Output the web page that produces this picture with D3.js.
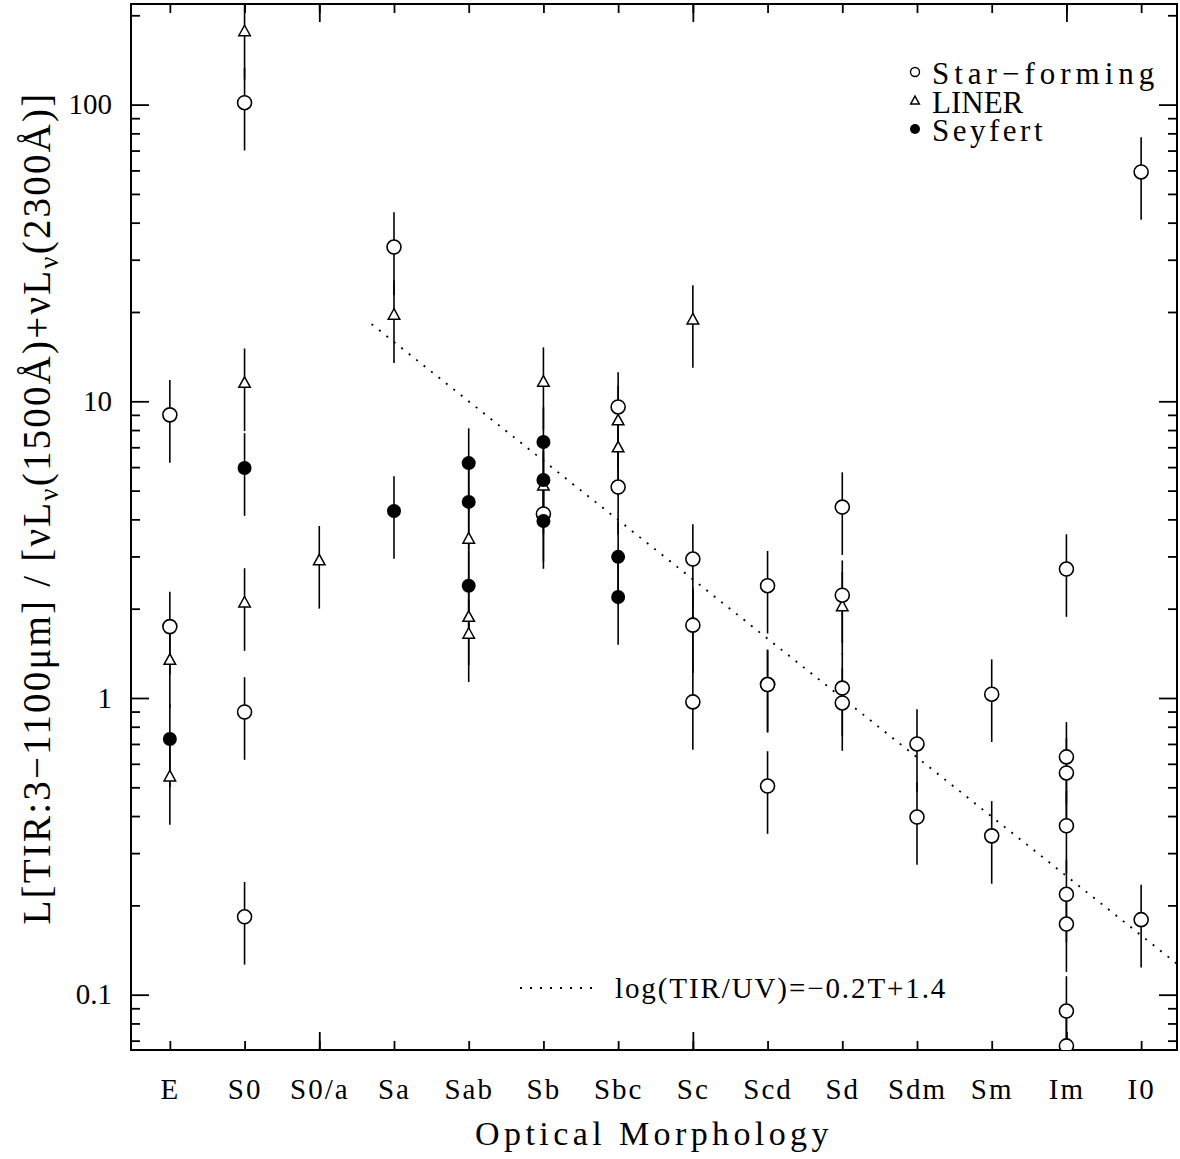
<!DOCTYPE html>
<html>
<head>
<meta charset="utf-8">
<script src="https://cdn.jsdelivr.net/npm/d3@7"></script>
<style>
  body { margin: 0; background: #fff; }
  text { font-family: "Liberation Serif", "Times New Roman", serif; fill: #000; }
</style>
</head>
<body>
<svg id="chart"></svg>
<script>
// morphological types along the x axis (S0/a is T=0)
const categories = ["E", "S0", "S0/a", "Sa", "Sab", "Sb", "Sbc", "Sc", "Scd", "Sd", "Sdm", "Sm", "Im", "I0"];
const majorTypes = ["S0/a", "Sc", "Im"];

// TIR/UV ratios, [type, value]
const starForming = [
  ["E", 9.0], ["E", 1.74],
  ["S0", 101.5], ["S0", 0.897], ["S0", 0.183],
  ["Sa", 33.1],
  ["Sb", 4.17],
  ["Sbc", 9.57], ["Sbc", 5.14],
  ["Sc", 2.94], ["Sc", 1.76], ["Sc", 0.97],
  ["Scd", 2.39], ["Scd", 1.11], ["Scd", 1.11], ["Scd", 0.505],
  ["Sd", 4.40], ["Sd", 2.22], ["Sd", 1.08], ["Sd", 0.962],
  ["Sdm", 0.70], ["Sdm", 0.397],
  ["Sm", 1.03], ["Sm", 0.343],
  ["Im", 2.72], ["Im", 0.633], ["Im", 0.559], ["Im", 0.371], ["Im", 0.218], ["Im", 0.173], ["Im", 0.0881], ["Im", 0.0672],
  ["I0", 59.3], ["I0", 0.179]
];
const liner = [
  ["E", 1.34], ["E", 0.542],
  ["S0", 176], ["S0", 11.5], ["S0", 2.09],
  ["S0/a", 2.90],
  ["Sa", 19.5],
  ["Sab", 3.43], ["Sab", 1.87], ["Sab", 1.64],
  ["Sb", 11.6], ["Sb", 5.18],
  ["Sbc", 8.59], ["Sbc", 6.97],
  ["Sc", 18.8], ["Sc", 1.79],
  ["Sd", 2.03]
];
const seyfert = [
  ["E", 0.727],
  ["S0", 5.96],
  ["Sa", 4.27],
  ["Sab", 6.19], ["Sab", 4.58], ["Sab", 2.39],
  ["Sb", 7.29], ["Sb", 5.43], ["Sb", 3.95],
  ["Sbc", 2.99], ["Sbc", 2.19]
];
const errFrac = 0.31;   // fractional error bar

const yTicks = [0.1, 1, 10, 100];
const yTickLabels = ["0.1", "1", "10", "100"];

// log(TIR/UV) = -0.2 T + 1.4
const fitSlope = -0.2, fitIntercept = 1.4, fitStartT = 0.7;

const margin = { top: 4, right: 3, bottom: 109, left: 131 },
  width = 1180 - margin.left - margin.right,
  height = 1159 - margin.top - margin.bottom;

const root = d3.select("#chart")
  .attr("width", 1180)
  .attr("height", 1159);

const svg = root.append("g")
  .attr("transform", `translate(${margin.left},${margin.top})`);

svg.append("clipPath").attr("id", "plotclip")
  .append("rect").attr("width", width).attr("height", height);

const x = d3.scaleLinear().domain([-0.52, 13.48]).range([0, width]);
const y = d3.scaleLog().domain([0.0651, 218.3]).range([height, 0]);
const xi = t => x(categories.indexOf(t));

// minor log ticks
const minorY = [];
[0.01, 0.1, 1, 10, 100].forEach(d => {
  for (let k = 2; k <= 9; k++) {
    const v = d * k;
    if (v > y.domain()[0] && v < y.domain()[1]) minorY.push(v);
  }
});

const idx = categories.map((c, i) => i);
const majorIdx = majorTypes.map(t => categories.indexOf(t));

function styleAxis(g) {
  g.select(".domain").remove();
  g.selectAll("line").attr("stroke", "#000").attr("stroke-width", 1.8);
}

// left axis
svg.append("g")
  .call(d3.axisLeft(y).tickValues(minorY).tickSizeInner(-9).tickSizeOuter(0).tickFormat(""))
  .call(styleAxis);
svg.append("g")
  .call(d3.axisLeft(y).tickValues(yTicks).tickSizeInner(-18).tickSizeOuter(0).tickPadding(19)
    .tickFormat((d, i) => yTickLabels[i]))
  .call(styleAxis)
  .selectAll("text")
  .attr("font-size", 29)
  .style("font-family", '"Liberation Serif", serif');

// right axis
svg.append("g").attr("transform", `translate(${width},0)`)
  .call(d3.axisRight(y).tickValues(minorY).tickSizeInner(-9).tickSizeOuter(0).tickFormat(""))
  .call(styleAxis);
svg.append("g").attr("transform", `translate(${width},0)`)
  .call(d3.axisRight(y).tickValues(yTicks).tickSizeInner(-18).tickSizeOuter(0).tickFormat(""))
  .call(styleAxis);

// bottom axis
svg.append("g").attr("transform", `translate(0,${height})`)
  .call(d3.axisBottom(x).tickValues(idx).tickSizeInner(-9).tickSizeOuter(0).tickPadding(28)
    .tickFormat(i => categories[i]))
  .call(styleAxis)
  .selectAll("text")
  .attr("font-size", 29)
  .attr("letter-spacing", 2)
  .style("font-family", '"Liberation Serif", serif');
svg.append("g").attr("transform", `translate(0,${height})`)
  .call(d3.axisBottom(x).tickValues(majorIdx).tickSizeInner(-18).tickSizeOuter(0).tickFormat(""))
  .call(styleAxis);

// top axis
svg.append("g")
  .call(d3.axisTop(x).tickValues(idx).tickSizeInner(-9).tickSizeOuter(0).tickFormat(""))
  .call(styleAxis);
svg.append("g")
  .call(d3.axisTop(x).tickValues(majorIdx).tickSizeInner(-18).tickSizeOuter(0).tickFormat(""))
  .call(styleAxis);

// frame
svg.append("rect")
  .attr("width", width).attr("height", height)
  .attr("fill", "none").attr("stroke", "#000").attr("stroke-width", 2);

const plot = svg.append("g").attr("clip-path", "url(#plotclip)");

// fit line
const tMax = x.domain()[1] - 2;
const fitPts = [fitStartT, tMax].map(t => [t, Math.pow(10, fitSlope * t + fitIntercept)]);
plot.append("path")
  .datum(fitPts)
  .attr("d", d3.line().x(d => x(d[0] + 2)).y(d => y(d[1])))
  .attr("fill", "none")
  .attr("stroke", "#000")
  .attr("stroke-width", 1.8)
  .attr("stroke-dasharray", "2,7.5");

const allPts = starForming.map(d => ({ t: d[0], v: d[1], k: "sf" }))
  .concat(liner.map(d => ({ t: d[0], v: d[1], k: "li" })))
  .concat(seyfert.map(d => ({ t: d[0], v: d[1], k: "sy" })));

// error bars
plot.selectAll(".err")
  .data(allPts)
  .enter()
  .append("line")
  .attr("class", "err")
  .attr("x1", d => xi(d.t)).attr("x2", d => xi(d.t))
  .attr("y1", d => y(d.v * (1 + errFrac)))
  .attr("y2", d => y(d.v * (1 - errFrac)))
  .attr("stroke", "#000")
  .attr("stroke-width", 1.6);

const triPath = s => `M0,${-0.62 * s}L${0.55 * s},${0.38 * s}L${-0.55 * s},${0.38 * s}Z`;

plot.selectAll(".tri")
  .data(allPts.filter(d => d.k === "li"))
  .enter()
  .append("path")
  .attr("class", "tri")
  .attr("transform", d => `translate(${xi(d.t)},${y(d.v)})`)
  .attr("d", triPath(10.5))
  .attr("fill", "#fff")
  .attr("stroke", "#000")
  .attr("stroke-width", 1.5);

plot.selectAll(".sf")
  .data(allPts.filter(d => d.k === "sf"))
  .enter()
  .append("circle")
  .attr("class", "sf")
  .attr("cx", d => xi(d.t))
  .attr("cy", d => y(d.v))
  .attr("r", 7)
  .attr("fill", "#fff")
  .attr("stroke", "#000")
  .attr("stroke-width", 1.6);

plot.selectAll(".sy")
  .data(allPts.filter(d => d.k === "sy"))
  .enter()
  .append("circle")
  .attr("class", "sy")
  .attr("cx", d => xi(d.t))
  .attr("cy", d => y(d.v))
  .attr("r", 7)
  .attr("fill", "#000");

// legend
const legend = root.append("g").attr("transform", "translate(915,0)");
legend.append("circle").attr("cx", 0).attr("cy", 72).attr("r", 4.5)
  .attr("fill", "none").attr("stroke", "#000").attr("stroke-width", 1.4);
legend.append("path").attr("transform", "translate(0,101)").attr("d", triPath(8))
  .attr("fill", "none").attr("stroke", "#000").attr("stroke-width", 1.4);
legend.append("circle").attr("cx", 0).attr("cy", 129).attr("r", 5).attr("fill", "#000");
const legendText = ["Star\u2212forming", "LINER", "Seyfert"];
legend.selectAll(".lt")
  .data(legendText)
  .enter()
  .append("text")
  .attr("class", "lt")
  .attr("x", 17)
  .attr("y", (d, i) => 84 + i * 28.5)
  .attr("font-size", 31)
  .attr("letter-spacing", (d, i) => [5, 0, 3.5][i])
  .text(d => d);

// fit legend
root.append("line")
  .attr("x1", 520).attr("x2", 598).attr("y1", 988).attr("y2", 988)
  .attr("stroke", "#000").attr("stroke-width", 1.8).attr("stroke-dasharray", "2,8");
root.append("text")
  .attr("x", 615).attr("y", 998)
  .attr("font-size", 29)
  .attr("letter-spacing", 1.9)
  .text("log(TIR/UV)=\u22120.2T+1.4");

// axis titles
root.append("text")
  .attr("x", margin.left + width / 2)
  .attr("y", 1145)
  .attr("text-anchor", "middle")
  .attr("font-size", 34)
  .attr("letter-spacing", 4.4)
  .text("Optical Morphology");

const ylab = root.append("text")
  .attr("transform", "translate(50,508) rotate(-90)")
  .attr("text-anchor", "middle")
  .attr("font-size", 39)
  .attr("letter-spacing", 2.2);
ylab.append("tspan").text("L[TIR:3\u22121100\u03bcm] / [\u03bdL");
ylab.append("tspan").attr("font-size", 27).attr("dy", 8).text("\u03bd");
ylab.append("tspan").attr("dy", -8).text("(1500\u00c5)+\u03bdL");
ylab.append("tspan").attr("font-size", 27).attr("dy", 8).text("\u03bd");
ylab.append("tspan").attr("dy", -8).text("(2300\u00c5)]");
</script>
</body>
</html>
